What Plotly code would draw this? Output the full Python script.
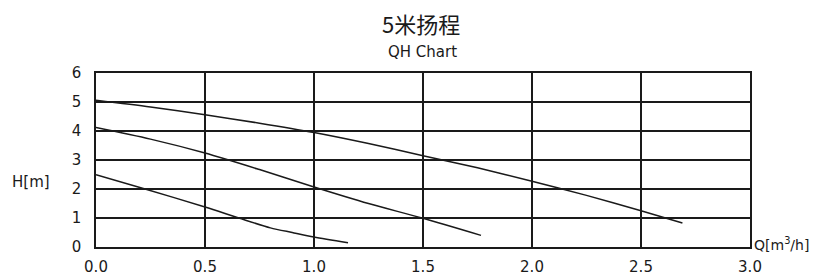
import plotly.graph_objects as go

title_text = "5米扬程"
subtitle_text = "QH Chart"
x_label = "Q[m<sup>3</sup>/h]"
y_label = "H[m]"

# Curve 1 (top)
q1 = [0.0, 0.25, 0.5, 0.75, 1.0, 1.25, 1.5, 1.75, 2.0, 2.25, 2.5, 2.69]
h1 = [5.06, 4.83, 4.56, 4.27, 3.95, 3.57, 3.15, 2.73, 2.27, 1.78, 1.25, 0.83]
# Curve 2 (middle)
q2 = [0.0, 0.25, 0.5, 0.75, 1.0, 1.25, 1.5, 1.766]
h2 = [4.12, 3.72, 3.24, 2.67, 2.07, 1.50, 0.99, 0.40]
# Curve 3 (bottom)
q3 = [0.0, 0.225, 0.5, 0.655, 0.8, 0.9, 1.0, 1.156]
h3 = [2.49, 2.0, 1.38, 1.0, 0.66, 0.50, 0.345, 0.15]

x_ticks = [0.0, 0.5, 1.0, 1.5, 2.0, 2.5, 3.0]
x_tick_labels = ["0.0", "0.5", "1.0", "1.5", "2.0", "2.5", "3.0"]
y_ticks = [0, 1, 2, 3, 4, 5, 6]

fig = go.Figure()
for q, h in [(q1, h1), (q2, h2), (q3, h3)]:
    fig.add_trace(go.Scatter(x=q, y=h, mode="lines",
                             line=dict(color="#1a1a1a", width=1.5, shape="spline", smoothing=0.8),
                             showlegend=False, hoverinfo="skip"))

font_fam = "DejaVu Sans, sans-serif"
OFF = 8  # page body margin offset
W, H = 818 - OFF, 278 - OFF
L, T = 96 - OFF, 73 - OFF
R = W - (750 - OFF)
B = H - (247 - OFF)
plot_w = W - L - R
plot_h = H - T - B


def px_x(px):
    return (px - OFF - L) / plot_w


def px_y(py):
    return (T + plot_h - (py - OFF)) / plot_h


fig.update_layout(
    width=W, height=H,
    margin=dict(l=L, r=R, t=T, b=B, autoexpand=False),
    paper_bgcolor="white", plot_bgcolor="white",
    font=dict(family=font_fam, size=15, color="#1a1a1a"),
    xaxis=dict(range=[0, 3], tickvals=x_ticks, ticktext=x_tick_labels,
               showgrid=True, gridcolor="#1a1a1a", gridwidth=1.5,
               showline=True, linecolor="#1a1a1a", linewidth=1.5, mirror=True,
               zeroline=False, ticks="", ticklabelstandoff=5, automargin=False,
               tickfont=dict(size=15, family=font_fam)),
    yaxis=dict(range=[0, 6], tickvals=y_ticks,
               showgrid=True, gridcolor="#1a1a1a", gridwidth=1.5,
               showline=True, linecolor="#1a1a1a", linewidth=1.5, mirror=True,
               zeroline=False, ticks="", ticklabelstandoff=10, automargin=False,
               tickfont=dict(size=15, family=font_fam)),
    annotations=[
        dict(text=title_text, xref="paper", yref="paper",
             x=px_x(421), y=px_y(23), xanchor="center", yanchor="middle",
             showarrow=False, font=dict(size=22, family="Noto Sans CJK SC", color="#1a1a1a")),
        dict(text=subtitle_text, xref="paper", yref="paper",
             x=px_x(422), y=px_y(52), xanchor="center", yanchor="middle",
             showarrow=False, font=dict(size=15, family=font_fam)),
        dict(text=y_label, xref="paper", yref="paper",
             x=px_x(31), y=px_y(182), xanchor="center", yanchor="middle",
             showarrow=False, font=dict(size=15, family=font_fam)),
        dict(text=x_label, xref="paper", yref="paper",
             x=px_x(752), y=px_y(244), xanchor="left", yanchor="middle",
             showarrow=False, font=dict(size=14, family=font_fam)),
    ],
)

fig.write_html("out.html")
